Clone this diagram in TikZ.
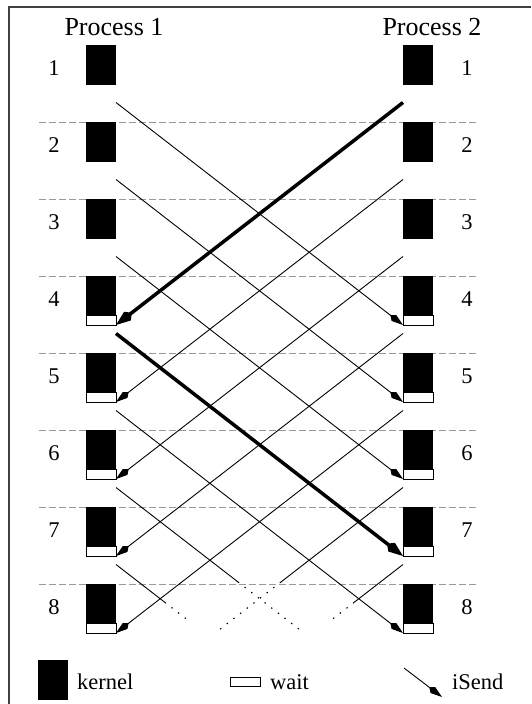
\documentclass[tikz,border=0pt]{standalone}
\usepackage{fontspec}
\setmainfont{Liberation Serif}
\usepackage{tikz}
\usetikzlibrary{arrows.meta, positioning, calc}

\begin{document}
\begin{tikzpicture}[
    x=1pt, y=-1pt,
    kernel/.style={rectangle, fill=black, minimum width=30pt, minimum height=39.5pt, inner sep=0pt, outer sep=0pt, anchor=north west},
    wait/.style={rectangle, draw=black, fill=white, line width=0.8pt, minimum width=30pt, minimum height=9.5pt, inner sep=0pt, outer sep=0pt, anchor=north},
    num/.style={font=\fontsize{22.5}{26}\selectfont, inner sep=0pt, anchor=base},
    legend/.style={font=\fontsize{22.5}{27}\selectfont, inner sep=0pt, anchor=base west},
    sep/.style={draw=black!40, line width=0.9pt, dash pattern=on 6.5pt off 3.5pt},
    msg/.style={line width=0.9pt, -{Kite[length=16pt, width=7.5pt, inset=4.5pt]}},
    bold/.style={line width=3.5pt, -{Kite[length=20pt, width=11pt, inset=5.5pt]}},
    pend/.style={line width=1.1pt, dash pattern=on 1.4pt off 7pt},
]
\useasboundingbox (0,0) rectangle (531,704);
\draw[line width=1.2pt, black!75] (9,704) -- (9,7) -- (531,7);

\node[font=\fontsize{26}{30}\selectfont, inner sep=0pt, anchor=base] (p1) at (114,35) {Process 1};
\node[font=\fontsize{26}{30}\selectfont, inner sep=0pt, anchor=base] (p2) at (432,35) {Process 2};

% rows
\foreach \r in {2,...,8} {
  \pgfmathsetmacro\t{45+(\r-1)*77}
  \draw[sep] (39,\t) -- (477,\t);
}
\foreach \r in {1,...,8} {
  \pgfmathsetmacro\t{45+(\r-1)*77}
  \node[kernel] (lk\r) at (86,\t) {};
  \node[kernel] (rk\r) at (403,\t) {};
  \node[num] (ln\r) at (54,\t+30) {\r};
  \node[num] (rn\r) at (467,\t+30) {\r};
  \coordinate (ls\r) at (116,\t+57.5);
  \coordinate (rs\r) at (403,\t+57.5);
}
\foreach \r in {4,...,8} {
  \node[wait] (lw\r) at (lk\r.south) {};
  \node[wait] (rw\r) at (rk\r.south) {};
}

% messages
\foreach \r in {1,2,3,5} {
  \pgfmathtruncatemacro\e{\r+3}
  \draw[msg] (ls\r) -- (rw\e.south west);
}
\foreach \r in {2,...,5} {
  \pgfmathtruncatemacro\e{\r+3}
  \draw[msg] (rs\r) -- (lw\e.south east);
}
\draw[bold] (ls4) -- (rw7.south west);
\draw[bold] (rs1) -- (lw4.south east);

% still in flight
\coordinate (lx6) at (403,709.7);
\coordinate (rx6) at (116,709.7);
\coordinate (lx7) at (403,786.7);
\coordinate (rx7) at (116,786.7);
\draw[line width=0.9pt] (ls6) -- ($(ls6)!0.425!(lx6)$) coordinate (lb6);
\draw[pend] (lb6) -- ($(ls6)!0.64!(lx6)$);
\draw[line width=0.9pt] (rs6) -- ($(rs6)!0.425!(rx6)$) coordinate (rb6);
\draw[pend] (rb6) -- ($(rs6)!0.64!(rx6)$);
\draw[line width=0.9pt] (ls7) -- ($(ls7)!0.17!(lx7)$) coordinate (lb7);
\draw[pend] (lb7) -- ($(ls7)!0.25!(lx7)$);
\draw[line width=0.9pt] (rs7) -- ($(rs7)!0.17!(rx7)$) coordinate (rb7);
\draw[pend] (rb7) -- ($(rs7)!0.25!(rx7)$);

% legend
\node[kernel] (kkey) at (38,660) {};
\node[legend] (kkeytxt) at (77,689) {kernel};
\node[wait, anchor=north west] (wkey) at (230,677) {};
\node[legend] (wkeytxt) at (270,689) {wait};
\coordinate (skeya) at (404,668);
\coordinate (skeyb) at (442,697);
\draw[msg] (skeya) -- (skeyb);
\node[legend] (skeytxt) at (452,689) {iSend};
\end{tikzpicture}
\end{document}
